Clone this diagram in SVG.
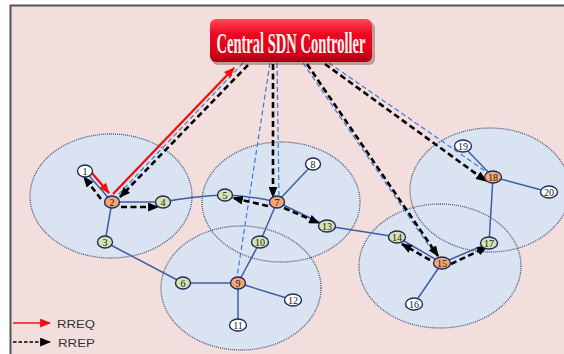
<svg xmlns="http://www.w3.org/2000/svg" width="564" height="354" viewBox="0 0 564 354">
  <defs>
    <linearGradient id="ctrlFill" x1="0" y1="0" x2="0" y2="1">
      <stop offset="0" stop-color="#ff4a58"/>
      <stop offset="0.35" stop-color="#f0061f"/>
      <stop offset="0.8" stop-color="#d8001a"/>
      <stop offset="1" stop-color="#a80012"/>
    </linearGradient>
    <marker id="ahBlack" viewBox="0 0 10 8" refX="9" refY="4" markerWidth="11" markerHeight="9" markerUnits="userSpaceOnUse" orient="auto">
      <path d="M0,0 L10,4 L0,8 Z" fill="#000"/>
    </marker>
    <marker id="ahRed" viewBox="0 0 10 8" refX="9" refY="4" markerWidth="11" markerHeight="9" markerUnits="userSpaceOnUse" orient="auto">
      <path d="M0,0 L10,4 L0,8 Z" fill="#f01010"/>
    </marker>
    <style>
      .cell { fill: #d9e3f1; stroke: none; }
      .cellEdge { fill: none; stroke: #4b5474; stroke-width: 1.3; stroke-dasharray: 1 1; }
      .link { stroke: #3d5ea6; stroke-width: 1.5; fill: none; }
      .ctl { stroke: #3a7ad0; stroke-width: 1.2; stroke-dasharray: 5 3; fill: none; }
      .rrep { stroke: #000; stroke-width: 2.6; stroke-dasharray: 6 3.5; fill: none; marker-end: url(#ahBlack); }
      .rreq { stroke: #f01010; stroke-width: 2.4; fill: none; marker-end: url(#ahRed); }
      .node ellipse { stroke: #1d2b5a; stroke-width: 1.4; }
      .node text { font-family: "Liberation Serif", "Times New Roman", serif; font-size: 10px; fill: #1a1a1a; text-anchor: middle; }
      .head { fill: #f4a676; }
      .member { fill: #d5e3b2; }
      .plain { fill: #ffffff; }
      .legend { font-family: "Liberation Sans", Arial, sans-serif; font-size: 11px; fill: #333; }
    </style>
  </defs>

  <!-- page and frame -->
  <rect x="0" y="0" width="564" height="354" fill="#ffffff"/>
  <rect x="10.5" y="5.5" width="554" height="349" fill="#f3dede"/>
  <path d="M10.5,354 L10.5,5.5 L564,5.5" fill="none" stroke="#555" stroke-width="2"/>

  <!-- radio cells -->
  <g id="cells">
    <ellipse class="cell" cx="111" cy="196" rx="81" ry="62"/>
    <ellipse class="cell" cx="281" cy="202" rx="79" ry="60"/>
    <ellipse class="cell" cx="241" cy="288" rx="80" ry="62"/>
    <ellipse class="cell" cx="440" cy="266" rx="81" ry="62"/>
    <ellipse class="cell" cx="490" cy="190" rx="80" ry="62"/>
    <ellipse class="cellEdge" cx="111" cy="196" rx="81" ry="62"/>
    <ellipse class="cellEdge" cx="281" cy="202" rx="79" ry="60"/>
    <ellipse class="cellEdge" cx="241" cy="288" rx="80" ry="62"/>
    <ellipse class="cellEdge" cx="440" cy="266" rx="81" ry="62"/>
    <ellipse class="cellEdge" cx="490" cy="190" rx="80" ry="62"/>
  </g>

  <!-- wireless links between nodes -->
  <g id="links">
    <line class="link" x1="85" y1="171" x2="112" y2="202"/>
    <line class="link" x1="112" y1="202" x2="163" y2="202"/>
    <line class="link" x1="112" y1="202" x2="105" y2="242"/>
    <path class="link" d="M163,202 Q195,196 225,195"/>
    <path class="link" d="M225,195 Q252,196 277,202"/>
    <line class="link" x1="277" y1="202" x2="313" y2="164"/>
    <line class="link" x1="277" y1="202" x2="327" y2="226"/>
    <line class="link" x1="277" y1="202" x2="260" y2="242"/>
    <line class="link" x1="260" y1="242" x2="238" y2="283"/>
    <line class="link" x1="105" y1="242" x2="183" y2="283"/>
    <line class="link" x1="183" y1="283" x2="238" y2="283"/>
    <line class="link" x1="238" y1="283" x2="293" y2="300"/>
    <line class="link" x1="238" y1="283" x2="238" y2="325"/>
    <line class="link" x1="327" y1="226" x2="397" y2="237"/>
    <line class="link" x1="397" y1="237" x2="442" y2="263"/>
    <line class="link" x1="442" y1="263" x2="414" y2="304"/>
    <line class="link" x1="442" y1="263" x2="489" y2="243"/>
    <line class="link" x1="489" y1="243" x2="493" y2="177"/>
    <line class="link" x1="493" y1="177" x2="463" y2="146"/>
    <line class="link" x1="493" y1="177" x2="549" y2="192"/>
  </g>

  <!-- control channels and route messages -->
  <g id="connectors">
    <line class="ctl" x1="243" y1="63" x2="116" y2="197"/>
    <line class="ctl" x1="270" y1="63" x2="237" y2="277"/>
    <line class="ctl" x1="277" y1="63" x2="279" y2="195"/>
    <line class="ctl" x1="303" y1="63" x2="434" y2="253"/>
    <line class="ctl" x1="329" y1="63" x2="488" y2="173"/>

    <line class="rreq" x1="91" y1="172" x2="109" y2="193"/>
    <line class="rreq" x1="113" y1="194" x2="234" y2="68"/>

    <line class="rrep" x1="248" y1="65" x2="120" y2="197"/>
    <line class="rrep" x1="101" y1="199" x2="84" y2="177"/>
    <line class="rrep" x1="121" y1="207" x2="158" y2="207"/>
    <line class="rrep" x1="273" y1="64" x2="273" y2="197"/>
    <line class="rrep" x1="268" y1="206" x2="233" y2="198"/>
    <line class="rrep" x1="284" y1="208" x2="319" y2="223"/>
    <line class="rrep" x1="307" y1="64" x2="438" y2="256"/>
    <line class="rrep" x1="430" y1="260" x2="402" y2="244"/>
    <line class="rrep" x1="451" y1="264" x2="487" y2="247"/>
    <line class="rrep" x1="325" y1="64" x2="486" y2="181"/>
  </g>

  <!-- controller -->
  <g id="controller">
    <rect x="212" y="22" width="163" height="43" rx="6" fill="#5a2020" opacity="0.35"/>
    <rect x="210" y="19" width="162" height="43" rx="6" fill="url(#ctrlFill)"/>
    <text x="291" y="52.5" text-anchor="middle" font-family="Liberation Serif, 'Times New Roman', serif" font-weight="bold" font-size="30" fill="#fff4f0" textLength="149" lengthAdjust="spacingAndGlyphs">Central SDN Controller</text>
  </g>

  <!-- nodes -->
  <g id="n1" class="node"><ellipse class="plain" cx="85" cy="171" rx="7.5" ry="6"/><text x="85" y="174.5">1</text></g>
  <g id="n2" class="node"><ellipse class="head" cx="112" cy="202" rx="7.5" ry="6"/><text x="112" y="205.5">2</text></g>
  <g id="n3" class="node"><ellipse class="member" cx="105" cy="242" rx="7.5" ry="6"/><text x="105" y="245.5">3</text></g>
  <g id="n4" class="node"><ellipse class="member" cx="163" cy="202" rx="7.5" ry="6"/><text x="163" y="205.5">4</text></g>
  <g id="n5" class="node"><ellipse class="member" cx="225" cy="195" rx="7.5" ry="6"/><text x="225" y="198.5">5</text></g>
  <g id="n6" class="node"><ellipse class="member" cx="183" cy="283" rx="7.5" ry="6"/><text x="183" y="286.5">6</text></g>
  <g id="n7" class="node"><ellipse class="head" cx="277" cy="202" rx="7.5" ry="6"/><text x="277" y="205.5">7</text></g>
  <g id="n8" class="node"><ellipse class="plain" cx="313" cy="164" rx="7.5" ry="6"/><text x="313" y="167.5">8</text></g>
  <g id="n9" class="node"><ellipse class="head" cx="238" cy="283" rx="7.5" ry="6"/><text x="238" y="286.5">9</text></g>
  <g id="n10" class="node"><ellipse class="member" cx="260" cy="242" rx="8.5" ry="6"/><text x="260" y="245.5">10</text></g>
  <g id="n11" class="node"><ellipse class="plain" cx="238" cy="325" rx="8.5" ry="6"/><text x="238" y="328.5">11</text></g>
  <g id="n12" class="node"><ellipse class="plain" cx="293" cy="300" rx="8.5" ry="6"/><text x="293" y="303.5">12</text></g>
  <g id="n13" class="node"><ellipse class="member" cx="327" cy="226" rx="8.5" ry="6"/><text x="327" y="229.5">13</text></g>
  <g id="n14" class="node"><ellipse class="member" cx="397" cy="237" rx="8.5" ry="6"/><text x="397" y="240.5">14</text></g>
  <g id="n15" class="node"><ellipse class="head" cx="442" cy="263" rx="8.5" ry="6"/><text x="442" y="266.5">15</text></g>
  <g id="n16" class="node"><ellipse class="plain" cx="414" cy="304" rx="8.5" ry="6"/><text x="414" y="307.5">16</text></g>
  <g id="n17" class="node"><ellipse class="member" cx="489" cy="243" rx="8.5" ry="6"/><text x="489" y="246.5">17</text></g>
  <g id="n18" class="node"><ellipse class="head" cx="493" cy="177" rx="8.5" ry="6"/><text x="493" y="180.5">18</text></g>
  <g id="n19" class="node"><ellipse class="plain" cx="463" cy="146" rx="8.5" ry="6"/><text x="463" y="149.5">19</text></g>
  <g id="n20" class="node"><ellipse class="plain" cx="549" cy="192" rx="8.5" ry="6"/><text x="549" y="195.5">20</text></g>

  <!-- legend -->
  <g id="legend">
    <line x1="13" y1="323" x2="50" y2="323" stroke="#f01010" stroke-width="1.3" marker-end="url(#ahRed)"/>
    <text class="legend" x="57" y="327.5" textLength="38" lengthAdjust="spacingAndGlyphs">RREQ</text>
    <line x1="13" y1="342" x2="50" y2="342" stroke="#000" stroke-width="1.5" stroke-dasharray="3.5 2" marker-end="url(#ahBlack)"/>
    <text class="legend" x="58" y="346.5" textLength="37" lengthAdjust="spacingAndGlyphs">RREP</text>
  </g>
</svg>
